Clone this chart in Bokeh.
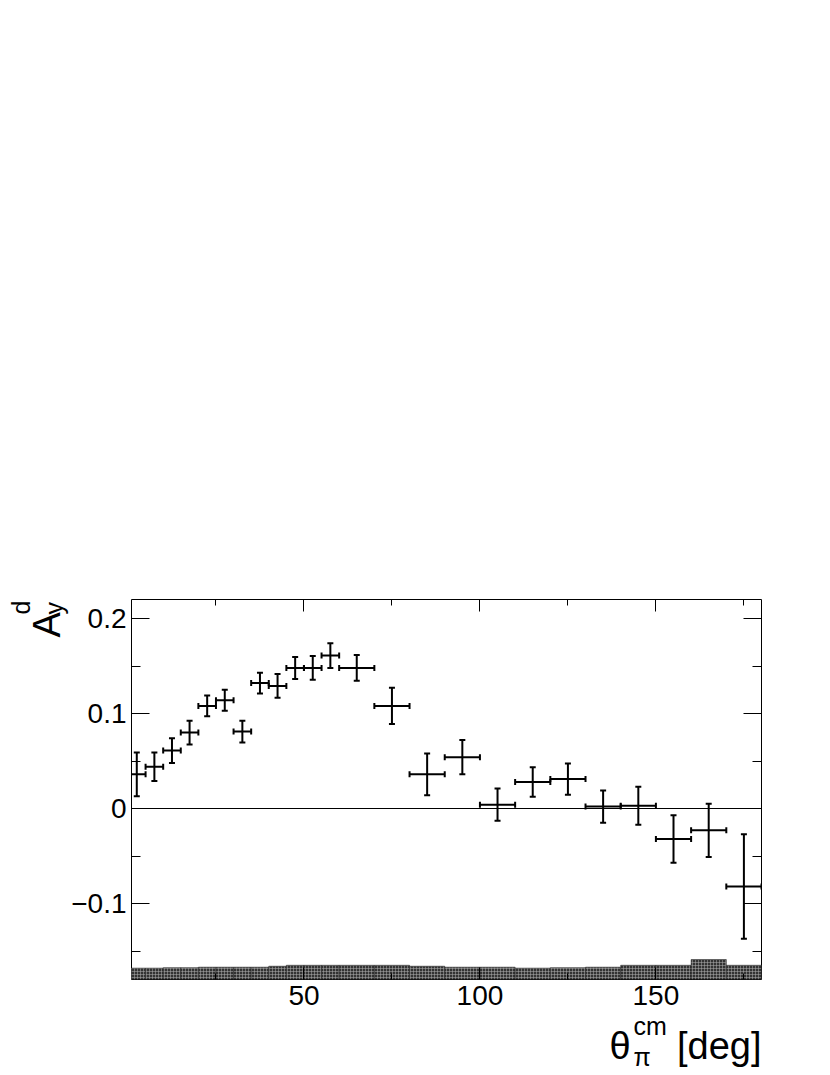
import math
from bokeh.plotting import figure
from bokeh.models import (ColumnDataSource, FixedTicker, LinearAxis, Range1d,
                          Span, Label)
from bokeh.embed import file_html
from bokeh.resources import INLINE

# ---------------- data ----------------
theta_center = [2.5, 7.5, 12.5, 17.5, 22.5, 27.5, 32.5, 37.5, 42.5, 47.5, 52.5, 57.5,
                65, 75, 85, 95, 105, 115, 125, 135, 145, 155, 165, 175]
theta_halfwidth = [2.5, 2.5, 2.5, 2.5, 2.5, 2.5, 2.5, 2.5, 2.5, 2.5, 2.5, 2.5,
                   5, 5, 5, 5, 5, 5, 5, 5, 5, 5, 5, 5]
asym = [0.036, 0.044, 0.061, 0.080, 0.108, 0.114, 0.081, 0.132, 0.129, 0.148, 0.148, 0.161,
        0.148, 0.108, 0.036, 0.054, 0.004, 0.028, 0.031, 0.002, 0.003, -0.032, -0.023, -0.082]
stat_err = [0.023, 0.015, 0.013, 0.0125, 0.011, 0.011, 0.0114, 0.011, 0.0125, 0.0116, 0.0125, 0.013,
            0.0135, 0.019, 0.022, 0.018, 0.017, 0.0155, 0.0165, 0.017, 0.020, 0.025, 0.028, 0.055]
sys_err = [0.012, 0.012, 0.0125, 0.0125, 0.013, 0.013, 0.013, 0.013, 0.014, 0.015, 0.015, 0.015,
           0.015, 0.015, 0.014, 0.013, 0.013, 0.012, 0.0125, 0.013, 0.015, 0.015, 0.021, 0.015]

x_ticks = [50, 100, 150]
x_minor_ticks = [25, 75, 125, 175]
y_ticks = [-0.1, 0.0, 0.1, 0.2]
y_tick_labels = ["\u22120.1", "0", "0.1", "0.2"]
y_minor_ticks = [-0.15, -0.05, 0.05, 0.15]

X_RANGE = (1, 180)
Y_RANGE = (-0.18, 0.22)

# ---------------- layout ----------------
W, H = 830, 1075
BL, BR, BT, BB = 131, 69, 599, 96
FW = W - BL - BR
FH = H - BT - BB
FONT = "Liberation Sans"


def xd(px):
    return X_RANGE[0] + (px - BL) * (X_RANGE[1] - X_RANGE[0]) / FW


def yd(px):
    return Y_RANGE[1] - (px - BT) * (Y_RANGE[1] - Y_RANGE[0]) / FH


lo = [c - h for c, h in zip(theta_center, theta_halfwidth)]
hi = [c + h for c, h in zip(theta_center, theta_halfwidth)]
src = ColumnDataSource(dict(
    x=theta_center, y=asym,
    xl=lo, xh=hi,
    yl=[a - e for a, e in zip(asym, stat_err)],
    yh=[a + e for a, e in zip(asym, stat_err)],
    band_bottom=[Y_RANGE[0]] * len(sys_err),
    band_top=[Y_RANGE[0] + s for s in sys_err],
))

p = figure(width=W, height=H, output_backend="svg", toolbar_location=None,
           x_range=Range1d(*X_RANGE), y_range=Range1d(*Y_RANGE),
           min_border_left=BL, min_border_right=BR,
           min_border_top=BT, min_border_bottom=BB,
           x_axis_location=None, y_axis_location=None)
p.grid.visible = False
p.outline_line_color = "black"
p.outline_line_width = 1
p.background_fill_color = "white"
p.border_fill_color = "white"

xt = FixedTicker(ticks=x_ticks, minor_ticks=x_minor_ticks)
yt = FixedTicker(ticks=y_ticks, minor_ticks=y_minor_ticks)


def style_axis(ax, show_labels, major_len, minor_len):
    ax.axis_line_color = None
    ax.major_tick_in = major_len
    ax.major_tick_out = 0
    ax.minor_tick_in = minor_len
    ax.minor_tick_out = 0
    ax.major_tick_line_color = "black"
    ax.minor_tick_line_color = "black"
    ax.major_tick_line_width = 1
    ax.minor_tick_line_width = 1
    ax.major_label_text_font = FONT
    ax.major_label_text_font_style = "normal"
    if show_labels:
        ax.major_label_text_font_size = "28px"
        ax.major_label_text_color = "black"
    else:
        ax.major_label_text_font_size = "1px"
        ax.major_label_text_color = None


xb = LinearAxis(ticker=xt)
style_axis(xb, True, 12, 6)
xb.major_label_standoff = 6
xa = LinearAxis(ticker=xt)
style_axis(xa, False, 12, 6)
yl = LinearAxis(ticker=yt)
style_axis(yl, True, 18, 9)
yl.major_label_standoff = 5
yl.major_label_overrides = dict(zip(y_ticks, y_tick_labels))
yr = LinearAxis(ticker=yt)
style_axis(yr, False, 18, 9)
p.add_layout(xb, "below")
p.add_layout(xa, "above")
p.add_layout(yl, "left")
p.add_layout(yr, "right")

# systematic band
p.quad(left="xl", right="xh", bottom="band_bottom", top="band_top", source=src,
       fill_color="#333333", line_color="#222222", line_width=0.5,
       hatch_pattern="+", hatch_color="#b0b0b0", hatch_scale=3, hatch_weight=0.5)

# zero line
p.add_layout(Span(location=0, dimension="width", line_color="black", line_width=1))

# error bars
p.segment(x0="x", y0="yl", x1="x", y1="yh", source=src, line_color="black", line_width=2)
p.segment(x0="xl", y0="y", x1="xh", y1="y", source=src, line_color="black", line_width=2)
p.scatter(x="x", y="yl", source=src, marker="dash", size=6, line_color="black", line_width=2)
p.scatter(x="x", y="yh", source=src, marker="dash", size=6, line_color="black", line_width=2)
p.scatter(x="xl", y="y", source=src, marker="dash", size=6, angle=math.pi / 2,
          line_color="black", line_width=2)
p.scatter(x="xh", y="y", source=src, marker="dash", size=6, angle=math.pi / 2,
          line_color="black", line_width=2)

# ---------------- titles (placed in the top side panel so they are not clipped) ----------------
TITLE = "38px"
SUB = "25px"


def lab(text, x, y, size, align="left", angle=0.0):
    p.add_layout(Label(text=text, x=x, y=y, x_units="data", y_units="data",
                       angle=angle, text_font=FONT, text_font_size=size,
                       text_color="black", text_align=align,
                       text_baseline="alphabetic"), "above")


# y title: A_y^d (rotated)
lab("A", xd(46), yd(637), TITLE, angle=math.pi / 2)
lab("d", xd(20), yd(614), SUB, angle=math.pi / 2)
lab("y", xd(53), yd(614), SUB, angle=math.pi / 2)

# x title: theta_pi^cm [deg]
lab("\u03b8", xd(609), yd(1045), TITLE)
lab("\u03c0", xd(633), yd(1056), SUB)
lab("cm", xd(633), yd(1025), SUB)
lab("[deg]", X_RANGE[1], yd(1045), TITLE, align="right")

open("out.html", "w").write(file_html(p, INLINE))
